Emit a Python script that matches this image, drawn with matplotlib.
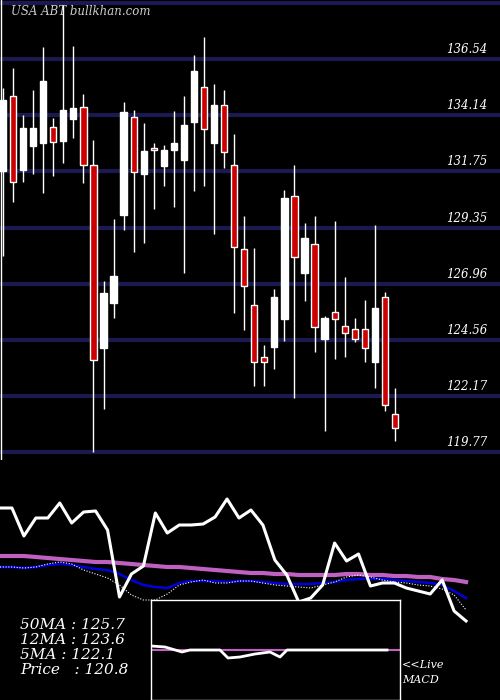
import matplotlib
matplotlib.use("Agg")
import matplotlib.pyplot as plt
from matplotlib.patches import Rectangle
import numpy as np

opens  = [131.76,134.96,131.80,132.83,132.95,133.64,133.04,133.98,134.49,132.01,124.20,126.12,129.88,134.06,131.63,132.74,131.97,132.66,132.23,133.85,
          135.35,132.95,134.58,132.01,128.43,126.04,123.82,124.24,125.44,130.69,127.40,128.64,124.59,125.74,125.14,125.01,125.01,123.60,126.38,121.38]
closes = [134.79,131.29,133.59,133.59,135.60,133.00,134.36,134.45,132.01,123.69,126.55,127.27,134.28,131.72,132.61,132.66,132.66,132.95,133.72,136.03,
          133.55,134.58,132.57,128.51,126.85,123.60,123.60,126.38,130.61,128.09,128.90,125.10,125.48,125.44,124.84,124.59,124.20,125.91,121.77,120.78]
highs  = [135.30,136.16,134.15,135.22,137.05,134.02,138.85,137.10,135.05,133.08,127.06,129.71,134.70,134.36,133.81,132.95,132.87,134.32,134.96,136.71,
          137.48,135.47,135.22,133.34,129.84,128.47,124.33,126.72,130.95,132.01,129.54,129.84,125.57,129.62,127.23,125.48,126.25,129.45,126.59,122.49]
lows   = [128.13,130.43,131.29,131.63,130.82,131.54,132.10,133.17,131.25,119.76,121.60,125.48,129.24,128.30,128.68,130.14,131.12,130.22,127.40,130.90,
          131.12,129.07,131.89,125.70,124.97,122.58,122.58,123.30,124.50,122.07,126.21,124.03,120.66,123.73,123.82,124.46,123.60,122.49,121.51,120.23]
price_ticks = [136.54,134.14,131.75,129.35,126.96,124.56,122.17,119.77]
top_line = 138.94

osc_price = [192,192,164,182,182,197,177,188,189,170,103,126,134,187,167,175,175,176,183,201,
             182,190,175,140,125,98,102,115,157,139,146,114,117,117,112,109,106,120,89,79]
ma50 = [144,144,144,143,142,141,140,139,138,138,137,136,135,134,133,133,132,131,130,129,
        128,127,127,126,126,125,125,125,125,126,126,125,125,124,124,123,123,121,120,118]
ma12 = [133,133,132,133,135,136,135,133,131,130,126,120,115,113,112,117,119,119,119,118,
        119,119,118,117,116,116,116,117,118,120,121,121,121,120,119,118,117,115,109,102]
ma5 = [133,133,132,133,136,138,136,130,126,122,115,105,100,100,106,115,118,120,117,117,
       119,119,117,115,114,113,112,115,118,123,125,123,120,118,117,115,114,111,105,90]
macd_x = [0,14,31,39,69,77,89,104,119,129,136,149,236]
macd_v = [54,53,48,50,50,42,43,46,48,43,50,50,50]
labels = ["50MA : 125.7", "12MA : 123.6", "5MA : 122.1", "Price   : 120.8"]

W, H = 500, 700
fig = plt.figure(figsize=(5, 7), dpi=100, facecolor="black")
serif = ["DejaVu Serif"]
grid_c = "#1a1a50"

ax = fig.add_axes([0, 1 - 460 / H, 1, 460 / H])
ax.set_facecolor("black")
ax.set_ylim(139.06 - 0.04268 * 460, 139.06)
ax.set_xlim(-3 / 10.05, (W - 3) / 10.05)
ax.axis("off")
for p in price_ticks + [top_line]:
    ax.axhline(p, color=grid_c, lw=3, zorder=1)
for p in price_ticks:
    ax.text(487 / 10.05 - 0.3, p + 0.12, f"{p:.2f}", color="white", ha="right", va="bottom",
            fontsize=8.5, fontstyle="italic", family=serif, zorder=5)
ax.axvline(-0.2, color="white", lw=1, zorder=2)
ax.text(0.8, 138.55, "USA ABT bullkhan.com", color="#cccccc", fontsize=8.5, fontstyle="italic",
        family=serif, va="center")
w = 0.62
for i, (o, c, h, l) in enumerate(zip(opens, closes, highs, lows)):
    ax.vlines(i, l, h, color="white", lw=1, zorder=3)
    up = c >= o
    face = "white" if up else "#cc0000"
    ax.add_patch(Rectangle((i - w / 2, min(o, c)), w, max(abs(c - o), 0.08),
                           facecolor=face, edgecolor="white", lw=1, zorder=4))

ax2 = fig.add_axes([0, 0, 1, 220 / H])
ax2.set_facecolor("black")
ax2.axis("off")
ax2.set_ylim(0, 220)
ax2.set_xlim(0, W / 11.95)
x = np.arange(len(osc_price))
ax2.plot(x, ma50, color="#c060c0", lw=3)
ax2.plot(x, ma12, color="#0000dd", lw=1.8)
ax2.plot(x, ma5, color="white", lw=0.8, ls=(0, (1, 1.5)))
ax2.plot(x, osc_price, color="white", lw=2.2)
for k, t in enumerate(labels):
    ax2.text(20 / 11.95, 75 - k * 15, t, color="white", fontsize=11, fontstyle="italic",
             family=serif, va="center")
ax2.text(402 / 11.95, 35, "<<Live", color="white", fontsize=8, fontstyle="italic", family=serif, va="center")
ax2.text(402 / 11.95, 20, "MACD", color="white", fontsize=8, fontstyle="italic", family=serif, va="center")

ax3 = fig.add_axes([151 / W, 0, 249 / W, 100 / H])
ax3.set_facecolor("black")
ax3.set_xlim(0, 249)
ax3.set_ylim(0, 100)
ax3.set_xticks([]); ax3.set_yticks([])
for s in ax3.spines.values():
    s.set_color("white"); s.set_linewidth(1)
ax3.axhline(50, color="#c060c0", lw=1.5)
ax3.plot(macd_x, macd_v, color="white", lw=2)

fig.savefig("out.png", dpi=100, facecolor="black")
